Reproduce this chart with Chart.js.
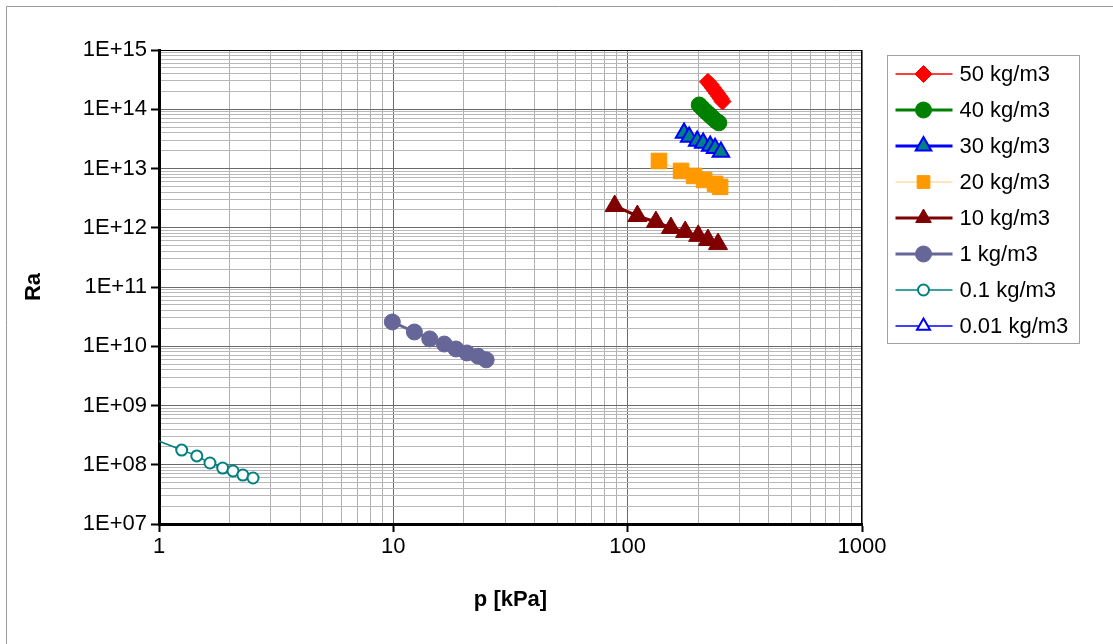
<!DOCTYPE html>
<html>
<head>
<meta charset="utf-8">
<title>Ra - p</title>
<script src="https://cdn.jsdelivr.net/npm/chart.js@4.4.1/dist/chart.umd.min.js"></script>
<style>
  html, body { margin: 0; padding: 0; background: #fff; }
  #wrap { position: relative; width: 1113px; height: 644px; }
</style>
</head>
<body>
<div id="wrap"><canvas id="raChart" width="1113" height="644"></canvas></div>
<script>
// 系列名（凡例の並び順）
const seriesNames = ['50 kg/m3', '40 kg/m3', '30 kg/m3', '20 kg/m3', '10 kg/m3', '1 kg/m3', '0.1 kg/m3', '0.01 kg/m3'];

// 圧力 p [kPa] と Ra の値
const p50 = [220, 226, 231, 236, 241, 246, 250, 254];
const ra50 = [2.9e14, 2.6e14, 2.3e14, 2.05e14, 1.85e14, 1.65e14, 1.5e14, 1.35e14];

const p40 = [202, 208, 214, 220, 226, 232, 238, 245];
const ra40 = [1.18e14, 1.05e14, 9.4e13, 8.5e13, 7.7e13, 7.0e13, 6.4e13, 5.9e13];

const p30 = [174, 183, 198, 210, 225, 236, 250];
const ra30 = [3.97e13, 3.4e13, 2.9e13, 2.7e13, 2.4e13, 2.2e13, 1.9e13];

const p20 = [136, 169, 192, 212, 236, 248];
const ra20 = [1.34e13, 9.1e12, 7.5e12, 6.4e12, 5.5e12, 4.9e12];

const p10 = [88, 110, 132, 153, 176, 200, 220, 243];
const ra10 = [2.33e12, 1.58e12, 1.25e12, 9.9e11, 8.5e11, 7.3e11, 6.2e11, 5.3e11];

const p1 = [9.9, 12.3, 14.3, 16.5, 18.5, 20.6, 23.0, 24.9];
const ra1 = [2.57e10, 1.74e10, 1.33e10, 1.09e10, 9.0e9, 7.7e9, 6.8e9, 5.9e9];

const p01 = [0.9, 1.25, 1.45, 1.65, 1.87, 2.07, 2.28, 2.52];
const ra01 = [2.96e8, 1.77e8, 1.41e8, 1.07e8, 8.8e7, 7.85e7, 6.7e7, 5.97e7];

const p001 = [];
const ra001 = [];

// 軸の目盛りラベル
const xTickLabels = ['1', '10', '100', '1000'];
const yTickLabels = ['1E+07', '1E+08', '1E+09', '1E+10', '1E+11', '1E+12', '1E+13', '1E+14', '1E+15'];

const seriesX = [p50, p40, p30, p20, p10, p1, p01, p001];
const seriesY = [ra50, ra40, ra30, ra20, ra10, ra1, ra01, ra001];

// 系列ごとの線・マーカーの見た目
const seriesStyles = [
  { line: '#FF0000', width: 1.5, shape: 'rectRot',  radius: 8.5, fill: '#FF0000', edge: '#FF0000', edgeWidth: 1 },
  { line: '#008000', width: 3,   shape: 'circle',   radius: 8,   fill: '#008000', edge: '#008000', edgeWidth: 1 },
  { line: '#0000FF', width: 3,   shape: 'triangle', radius: 9.5, fill: '#008080', edge: '#0000FF', edgeWidth: 2 },
  { line: '#FFDCA8', width: 1.5, shape: 'rect',     radius: 11,  fill: '#FF9900', edge: '#FF9900', edgeWidth: 1 },
  { line: '#800000', width: 3,   shape: 'triangle', radius: 11,  fill: '#800000', edge: '#800000', edgeWidth: 1 },
  { line: '#666699', width: 3,   shape: 'circle',   radius: 8,   fill: '#666699', edge: '#666699', edgeWidth: 1 },
  { line: '#008080', width: 1.5, shape: 'circle',   radius: 5.5, fill: '#FFFFFF', edge: '#008080', edgeWidth: 2 },
  { line: '#0000FF', width: 1.5, shape: 'triangle', radius: 7.5, fill: '#FFFFFF', edge: '#0000FF', edgeWidth: 2 }
];

const FONT = "'Liberation Sans', Arial, sans-serif";
Chart.defaults.font.family = FONT;
Chart.defaults.color = '#000';

/**
 * 対数軸の目盛り（各桁の1〜9倍）を作る
 */
function logTicks(minExp, maxExp) {
  const ticks = [];
  for (let e = minExp; e < maxExp; e++) {
    for (let m = 1; m <= 9; m++) {
      ticks.push({ value: m * Math.pow(10, e) });
    }
  }
  ticks.push({ value: Math.pow(10, maxExp) });
  return ticks;
}

function isDecade(v) {
  const e = Math.round(Math.log10(v));
  return Math.abs(v - Math.pow(10, e)) / v < 1e-9;
}

const datasets = seriesNames.map((name, i) => {
  const s = seriesStyles[i];
  return {
    label: name,
    data: seriesX[i].map((x, k) => ({ x: x, y: seriesY[i][k] })),
    showLine: true,
    borderColor: s.line,
    borderWidth: s.width,
    backgroundColor: s.fill,
    pointStyle: s.shape,
    pointRadius: s.radius,
    pointBackgroundColor: s.fill,
    pointBorderColor: s.edge,
    pointBorderWidth: s.edgeWidth,
    pointHoverRadius: s.radius,
    tension: 0
  };
});

// 外枠・プロットエリア枠
const frame = {
  id: 'frame',
  beforeDatasetsDraw(chart) {
    const { ctx, chartArea: a } = chart;
    ctx.save();
    ctx.strokeStyle = '#000';
    ctx.lineWidth = 1;
    ctx.strokeRect(a.left, a.top + 0.5, a.right - a.left - 0.5, a.bottom - a.top);
    ctx.restore();
  },
  afterDraw(chart) {
    const ctx = chart.ctx;
    ctx.save();
    ctx.strokeStyle = '#9a9a9a';
    ctx.lineWidth = 1;
    ctx.beginPath();
    ctx.moveTo(6.5, chart.height);
    ctx.lineTo(6.5, 6.5);
    ctx.lineTo(chart.width, 6.5);
    ctx.stroke();
    ctx.restore();
  }
};

// 線とマーカーを並べた凡例
const legendBox = {
  id: 'legendBox',
  afterDraw(chart) {
    const ctx = chart.ctx;
    const left = chart.chartArea.right + 25.5;
    const top = 55.5;
    ctx.save();
    ctx.strokeStyle = '#a0a0a0';
    ctx.lineWidth = 1;
    ctx.strokeRect(left, top, 192, 288);
    ctx.font = '22px ' + FONT;
    ctx.textBaseline = 'middle';
    chart.data.datasets.forEach((ds, i) => {
      const y = Math.round(top + 18 + i * 36.1);
      ctx.strokeStyle = ds.borderColor;
      ctx.lineWidth = ds.borderWidth;
      ctx.beginPath();
      ctx.moveTo(left + 8, y);
      ctx.lineTo(left + 65, y);
      ctx.stroke();
      ctx.fillStyle = ds.pointBackgroundColor;
      ctx.strokeStyle = ds.pointBorderColor;
      ctx.lineWidth = ds.pointBorderWidth;
      Chart.helpers.drawPoint(ctx, {
        pointStyle: ds.pointStyle,
        radius: Math.min(ds.pointRadius, 9),
        borderWidth: ds.pointBorderWidth,
        rotation: 0
      }, left + 36, y);
      ctx.fillStyle = '#000';
      ctx.fillText(ds.label, left + 72, y + 1);
    });
    ctx.restore();
  }
};

const ctx = document.getElementById('raChart').getContext('2d');
const raChart = new Chart(ctx, {
  type: 'scatter',
  data: { datasets: datasets },
  plugins: [frame, legendBox],
  options: {
    responsive: false,
    animation: false,
    devicePixelRatio: 1,
    layout: { padding: { top: 50, right: 251, left: 0, bottom: 0 } },
    plugins: {
      legend: { display: false },
      tooltip: { enabled: false }
    },
    scales: {
      x: {
        type: 'logarithmic',
        min: 1,
        max: 1000,
        afterFit: scale => { scale.height = 120; },
        afterBuildTicks: scale => { scale.ticks = logTicks(0, 3); },
        border: { color: '#000', width: 3 },
        grid: {
          color: c => isDecade(c.tick.value) ? '#6a6a6a' : '#b0b0b0',
          lineWidth: 1,
          tickLength: 8,
          tickWidth: 2,
          tickColor: c => isDecade(c.tick.value) ? '#000' : 'rgba(0,0,0,0)'
        },
        ticks: {
          autoSkip: false,
          maxRotation: 0,
          padding: 2,
          font: { size: 22 },
          callback: v => isDecade(v) ? xTickLabels[Math.round(Math.log10(v))] : ''
        },
        title: {
          display: true,
          text: 'p [kPa]',
          font: { size: 22, weight: 'bold' },
          padding: { top: 0, bottom: 31 }
        }
      },
      y: {
        type: 'logarithmic',
        min: 1e7,
        max: 1e15,
        afterFit: scale => { scale.width = 159; },
        afterBuildTicks: scale => { scale.ticks = logTicks(7, 15); },
        border: { color: '#000', width: 3 },
        grid: {
          color: c => isDecade(c.tick.value) ? '#6a6a6a' : '#b8b8b8',
          lineWidth: 1,
          tickLength: 8,
          tickWidth: 2,
          tickColor: c => isDecade(c.tick.value) ? '#000' : 'rgba(0,0,0,0)'
        },
        ticks: {
          autoSkip: false,
          padding: 4,
          font: { size: 22 },
          callback: v => isDecade(v) ? yTickLabels[Math.round(Math.log10(v)) - 7] : ''
        },
        title: {
          display: true,
          text: 'Ra',
          font: { size: 22, weight: 'bold' },
          padding: { top: 21, bottom: 0 }
        }
      }
    }
  }
});
</script>
</body>
</html>
